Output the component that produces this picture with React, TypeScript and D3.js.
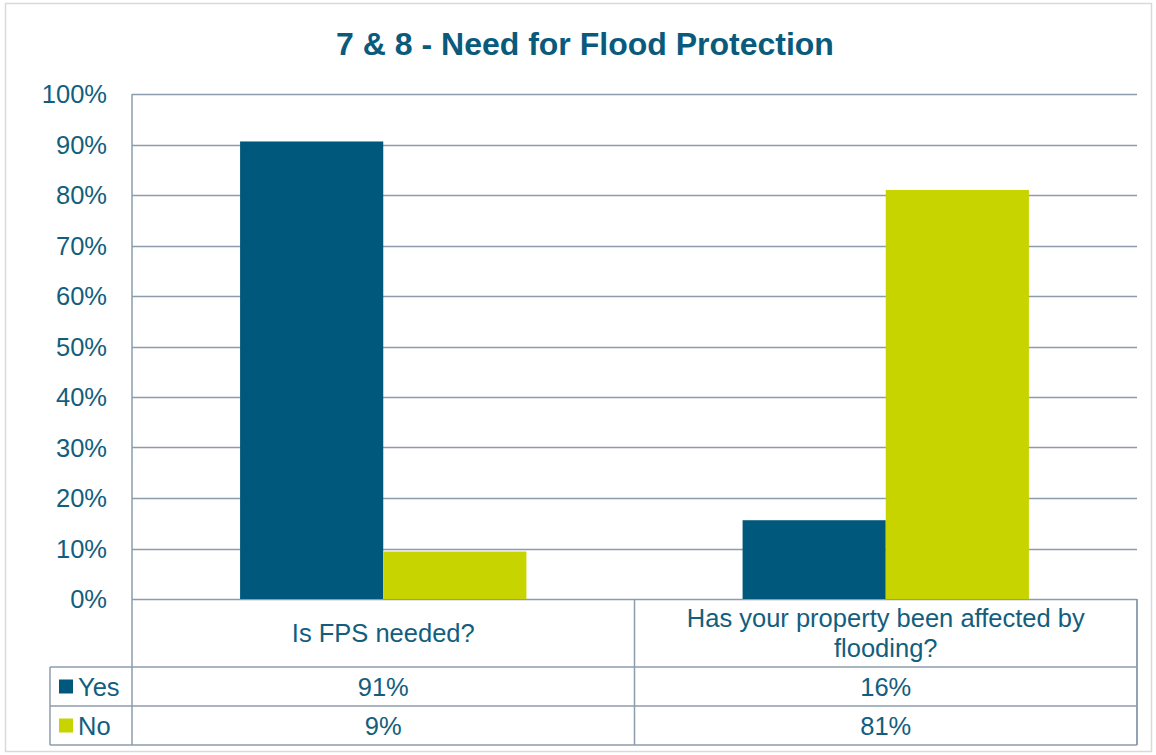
import React, { useEffect, useRef } from 'react';
import * as d3 from 'd3';

const categories = ['Is FPS needed?', 'Has your property been affected by flooding?'];
const categoryLines = [['Is FPS needed?'], ['Has your property been affected by', 'flooding?']];
const seriesNames = ['Yes', 'No'];
const yesValues = [0.906, 0.156];
const noValues = [0.094, 0.81];
const yTicks = [0, 0.1, 0.2, 0.3, 0.4, 0.5, 0.6, 0.7, 0.8, 0.9, 1.0];

const COLORS = ['#00587C', '#C8D400'];
const TEXT = '#125E7E';
const GRID = '#8C9CAD';
const FONT = 'Arial, "Liberation Sans", sans-serif';
const FS = 25.5;

export default function App() {
  const svgRef = useRef<SVGSVGElement>(null);
  const width = 1156;
  const height = 755;
  const plot = { left: 132, right: 1137, top: 94, bottom: 599 };
  const rowCat = 667;
  const rowYes = 706;
  const rowNo = 745;
  const tableLeft = 50;

  useEffect(() => {
    if (!svgRef.current) return;
    const svg = d3.select(svgRef.current);
    svg.selectAll('*').remove();

    // outer frame
    svg.append('rect')
      .attr('x', 5.5).attr('y', 3.5)
      .attr('width', 1146).attr('height', 748)
      .attr('fill', '#fff').attr('stroke', '#D9D9D9').attr('stroke-width', 1.5);

    svg.append('text')
      .attr('x', 585).attr('y', 55)
      .attr('text-anchor', 'middle')
      .attr('font-family', FONT).attr('font-size', 32).attr('font-weight', 'bold')
      .attr('fill', '#0A5A7C')
      .text('7 & 8 - Need for Flood Protection');

    const y = d3.scaleLinear().domain([0, 1]).range([plot.bottom, plot.top]);
    const x0 = d3.scaleBand().domain(categories).range([plot.left, plot.right]).paddingInner(0).paddingOuter(0);
    const x1 = d3.scaleBand().domain(seriesNames).range([0, x0.bandwidth()]).paddingInner(0).paddingOuter(0.755);

    // gridlines
    svg.append('g').selectAll('line').data(yTicks).enter().append('line')
      .attr('x1', plot.left).attr('x2', plot.right)
      .attr('y1', d => Math.round(y(d)) + 0.5).attr('y2', d => Math.round(y(d)) + 0.5)
      .attr('stroke', GRID).attr('stroke-width', 1.5);

    // y labels
    svg.append('g').selectAll('text').data(yTicks).enter().append('text')
      .attr('x', 107).attr('y', d => y(d) + 9)
      .attr('text-anchor', 'end')
      .attr('font-family', FONT).attr('font-size', FS).attr('fill', TEXT)
      .text(d => d3.format('.0%')(d));

    const series = [yesValues, noValues];
    series.forEach((vals, si) => {
      svg.append('g').selectAll('rect').data(vals).enter().append('rect')
        .attr('x', (d, i) => (x0(categories[i]) as number) + (x1(seriesNames[si]) as number))
        .attr('y', d => y(d))
        .attr('width', x1.bandwidth())
        .attr('height', d => y(0) - y(d))
        .attr('fill', COLORS[si]);
    });

    // table lines
    const g = svg.append('g').attr('stroke', GRID).attr('stroke-width', 1.5).attr('fill', 'none');
    g.append('line').attr('x1', plot.left).attr('x2', plot.left).attr('y1', plot.top).attr('y2', rowNo);
    g.append('line').attr('x1', plot.right).attr('x2', plot.right).attr('y1', plot.bottom).attr('y2', rowNo);
    categories.forEach(c => {
      const xx = (x0(c) as number) + x0.bandwidth();
      g.append('line').attr('x1', xx).attr('x2', xx).attr('y1', plot.bottom).attr('y2', rowNo);
    });
    g.append('line').attr('x1', tableLeft).attr('x2', tableLeft).attr('y1', rowCat).attr('y2', rowNo);
    [rowCat, rowYes, rowNo].forEach(ry => {
      g.append('line').attr('x1', tableLeft).attr('x2', plot.right).attr('y1', ry).attr('y2', ry);
    });

    // category labels
    categories.forEach((c, i) => {
      const cx = (x0(c) as number) + x0.bandwidth() / 2;
      const lines = categoryLines[i];
      const mid = (plot.bottom + rowCat) / 2;
      lines.forEach((ln, li) => {
        svg.append('text')
          .attr('x', cx).attr('y', mid + 9 + (li - (lines.length - 1) / 2) * 30)
          .attr('text-anchor', 'middle')
          .attr('font-family', FONT).attr('font-size', FS).attr('fill', TEXT)
          .text(ln);
      });
    });

    // data rows
    const rows = [rowCat, rowYes];
    series.forEach((vals, si) => {
      const top = rows[si];
      const mid = top + 19.5;
      svg.append('rect')
        .attr('x', 59).attr('y', mid - 7).attr('width', 14).attr('height', 14)
        .attr('fill', COLORS[si]);
      svg.append('text')
        .attr('x', 78).attr('y', mid + 9)
        .attr('font-family', FONT).attr('font-size', FS).attr('fill', TEXT)
        .text(seriesNames[si]);
      vals.forEach((v, i) => {
        svg.append('text')
          .attr('x', (x0(categories[i]) as number) + x0.bandwidth() / 2)
          .attr('y', mid + 9)
          .attr('text-anchor', 'middle')
          .attr('font-family', FONT).attr('font-size', FS).attr('fill', TEXT)
          .text(d3.format('.0%')(v));
      });
    });
  }, []);

  return (
    <div style={{ position: 'absolute', left: 0, top: 0, width, height, background: '#fff' }}>
      <svg ref={svgRef} width={width} height={height} style={{ display: 'block' }} />
    </div>
  );
}
